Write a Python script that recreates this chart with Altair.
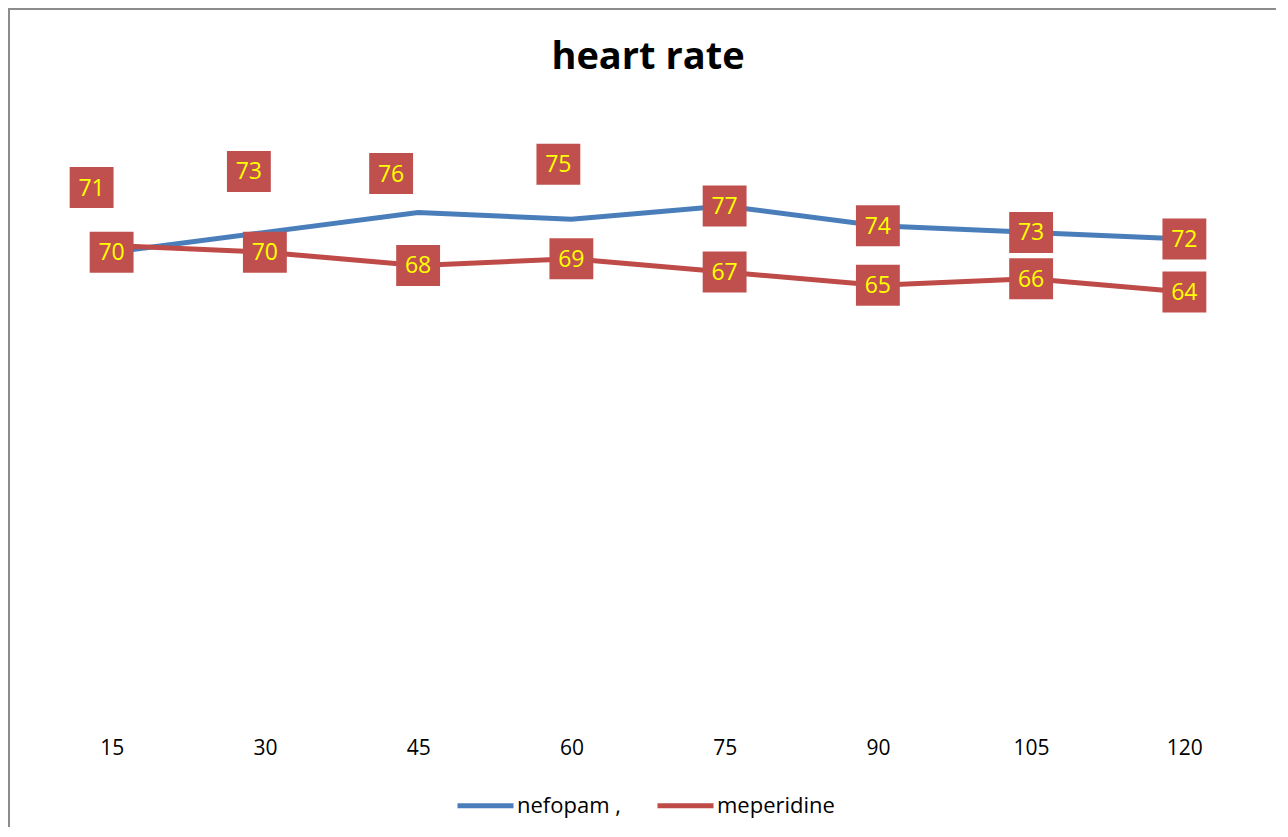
import altair as alt
import pandas as pd

# ---- data ----
times = [15, 30, 45, 60, 75, 90, 105, 120]
series_names = ["nefopam ,", "meperidine"]
nefopam = [70, 73, 76, 75, 77, 74, 73, 72]
meperidine = [71, 70, 68, 69, 67, 65, 66, 64]
title_text = "heart rate"

# ---- styling ----
line_colors = ["#4A7EBB", "#BE4B48"]
box_color = "#C0504D"
label_color = "#FFFF00"
FONT = "Open Sans"
# pixel offsets for the data labels that Excel moved away from their point
label_shift = {
    ("meperidine", 15): (-20, -58),
    ("nefopam ,", 30): (-16, -61),
    ("nefopam ,", 45): (-27, -39),
    ("nefopam ,", 60): (-13, -55),
}

rows = []
for name, vals in zip(series_names, [nefopam, meperidine]):
    for t, v in zip(times, vals):
        rows.append({"time": str(t), "series": name, "value": v,
                     "shifted": (name, t) in label_shift, "t": t})
df = pd.DataFrame(rows)

W, H = 1226, 595

x_enc = alt.X("time:O", sort=[str(t) for t in times],
              scale=alt.Scale(type="point", padding=0.5),
              axis=alt.Axis(title=None, labelAngle=0, domain=False, ticks=False,
                            grid=False, labelFont=FONT, labelFontSize=21,
                            labelColor="#000000", labelPadding=22))
y_enc = alt.Y("value:Q", scale=alt.Scale(domain=[0, 90], nice=False, zero=True),
              axis=None)

base = alt.Chart(df)

lines = base.mark_line(strokeWidth=5, strokeCap="butt").encode(
    x=x_enc, y=y_enc,
    color=alt.Color("series:N",
                    scale=alt.Scale(domain=series_names, range=line_colors),
                    legend=alt.Legend(title=None, orient="none", direction="horizontal",
                                      legendX=420, legendY=655,
                                      symbolType="stroke", symbolSize=3136,
                                      symbolStrokeWidth=5, labelFont=FONT,
                                      labelFontSize=22, labelColor="#000000",
                                      labelOffset=1, columnPadding=26, padding=0,
                                      labelLimit=400)),
    order=alt.Order("t:Q"),
)

box_shape = "M-1.07,-1 H1.07 V1 H-1.07 Z"

label_layers = []
# labels sitting on their point
on_pt = base.transform_filter("!datum.shifted")
label_layers.append(on_pt.mark_point(shape=box_shape, filled=True, size=1681,
                                     color=box_color, opacity=1).encode(x=x_enc, y=y_enc))
label_layers.append(on_pt.mark_text(font=FONT, fontSize=23, color=label_color,
                                    baseline="middle", align="center", dy=1)
                    .encode(x=x_enc, y=y_enc, text="value:Q"))
# labels moved away from their point
for (name, t), (dx, dy) in label_shift.items():
    sub = base.transform_filter(
        f"datum.series == '{name}' && datum.t == {t}")
    label_layers.append(sub.mark_point(shape=box_shape, filled=True, size=1681,
                                       color=box_color, opacity=1,
                                       xOffset=dx, yOffset=dy).encode(x=x_enc, y=y_enc))
    label_layers.append(sub.mark_text(font=FONT, fontSize=23, color=label_color,
                                      baseline="middle", align="center",
                                      xOffset=dx, yOffset=dy + 1)
                        .encode(x=x_enc, y=y_enc, text="value:Q"))

frame = alt.Chart(pd.DataFrame({"f": [0]})).mark_rect(
    fill=None, stroke="#8C8C8C", strokeWidth=2, clip=False).encode(
    x=alt.value(-26), x2=alt.value(W + 60), y=alt.value(-111), y2=alt.value(H + 150))

chart = alt.layer(frame, lines, *label_layers).properties(
    width=W, height=H,
    title=alt.Title(title_text, font=FONT, fontSize=38, fontWeight="bold",
                    color="#000000", anchor="middle", frame="group",
                    baseline="alphabetic", offset=-99),
    autosize=alt.AutoSizeParams(type="none"),
    padding={"left": 27, "top": 112, "right": 15, "bottom": 112},
    background="#FFFFFF",
).configure_view(stroke=None)

chart.save("out.html", embed_options={"renderer": "svg", "actions": False})
